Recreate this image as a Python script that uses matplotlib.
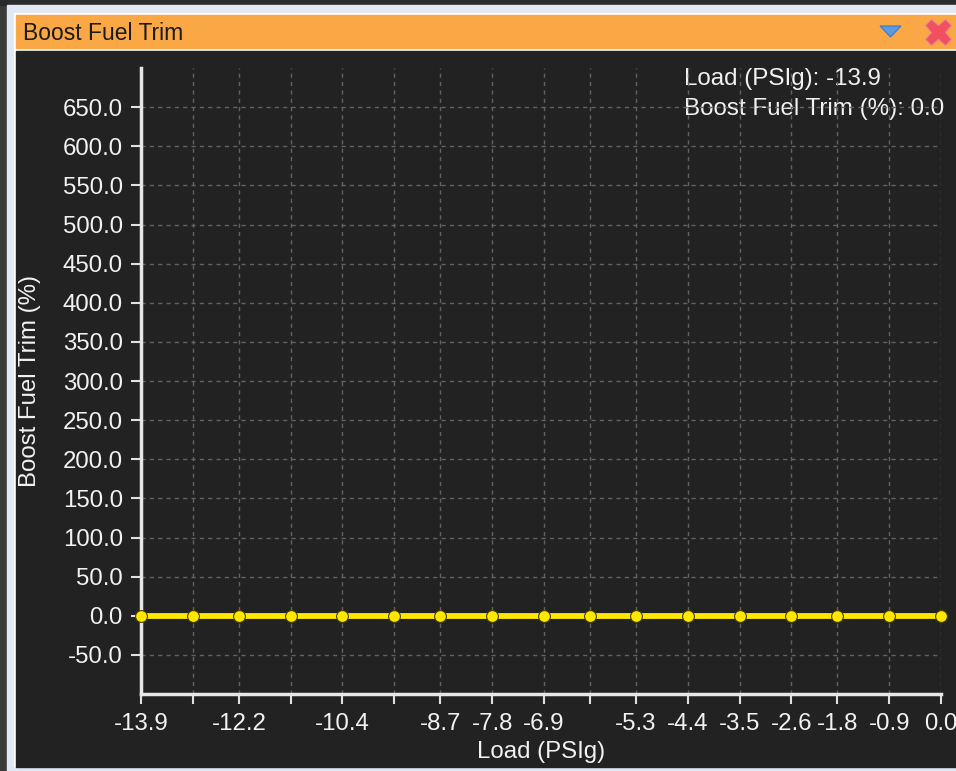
import matplotlib
matplotlib.use("Agg")
import matplotlib.pyplot as plt
from matplotlib.patches import Rectangle, Polygon

# ---- data ----
load_psig = [-13.9, -13.0, -12.2, -11.3, -10.4, -9.5, -8.7, -7.8, -6.9, -6.1,
             -5.3, -4.4, -3.5, -2.6, -1.8, -0.9, 0.0]
boost_fuel_trim = [0.0] * 17
x_tick_labels = ["-13.9", "", "-12.2", "", "-10.4", "", "-8.7", "-7.8", "-6.9", "",
                 "-5.3", "-4.4", "-3.5", "-2.6", "-1.8", "-0.9", "0.0"]
y_ticks = [-50, 0, 50, 100, 150, 200, 250, 300, 350, 400, 450, 500, 550, 600, 650]
title_text = "Boost Fuel Trim"
x_label = "Load (PSIg)"
y_label = "Boost Fuel Trim (%)"
readout = ["Load (PSIg): -13.9", "Boost Fuel Trim (%): 0.0"]

W, H = 956, 771
plt.rcParams['font.family'] = ['Liberation Sans', 'DejaVu Sans']
fig = plt.figure(figsize=(W / 100, H / 100), dpi=100)
fig.patch.set_facecolor("#f4f6f9")

# background / window chrome axes (pixel coordinates)
bg = fig.add_axes([0, 0, 1, 1], zorder=0)
bg.set_xlim(0, W)
bg.set_ylim(H, 0)
bg.axis("off")
bg.add_patch(Rectangle((0, 0), 7, H, color="#3a3a3a"))
bg.add_patch(Rectangle((0, 0), W, 5, color="#2a2a2a"))
bg.add_patch(Rectangle((7, 5), W, H, color="#dfe8f3"))
bg.add_patch(Rectangle((14, 13), W, H - 18, color="#ffffff"))
bg.add_patch(Rectangle((16, 15), W, 33, color="#f9a845"))
bg.add_patch(Rectangle((16, 51), W, 716, color="#222222"))
bg.text(23, 33, title_text, fontsize=16.5, color="#1a1a1a", va="center", ha="left")
bg.add_patch(Polygon([[880, 26], [901, 26], [890.5, 37]], closed=True,
                     facecolor="#5b9be0", edgecolor="#3c78c8", linewidth=0.8))
bg.plot([938], [32], marker="X", markersize=19, color="#f05060", markeredgecolor="#f58090",
        markeredgewidth=0.8)
bg.text(684, 79, readout[0], fontsize=17.4, color="#f2f2f2", va="center", ha="left")
bg.text(684, 109, readout[1], fontsize=17.4, color="#f2f2f2", va="center", ha="left")

# main plot axes
left, right, top, bottom = 141, 941, 68, 694
ax = fig.add_axes([left / W, (H - bottom) / H, (right - left) / W, (bottom - top) / H], zorder=1)
ax.set_facecolor("none")
ax.plot(load_psig, boost_fuel_trim, color="#ffe800", linewidth=4.2, marker="o",
        markersize=8.5, markerfacecolor="#ffe800", markeredgecolor="#4a4400",
        markeredgewidth=0.8, clip_on=False, zorder=3)
ax.set_xlim(load_psig[0], load_psig[-1])
ax.set_ylim(-100, 700)
ax.set_xticks(load_psig)
ax.set_xticklabels(x_tick_labels)
ax.set_yticks(y_ticks)
ax.set_yticklabels([f"{v:.1f}" for v in y_ticks])
ax.grid(True, color="#626262", linestyle=(0, (3, 3)), linewidth=1)
ax.set_axisbelow(True)
for s in ["top", "right"]:
    ax.spines[s].set_visible(False)
for s in ["left", "bottom"]:
    ax.spines[s].set_color("#e6e6e6")
    ax.spines[s].set_linewidth(2.5)
ax.tick_params(axis="both", colors="#e0e0e0", length=7, width=1.5, labelsize=17.3,
               labelcolor="#f2f2f2")
ax.tick_params(axis="x", pad=7)
ax.tick_params(axis="y", pad=6)
ax.set_xlabel(x_label, fontsize=17.3, color="#f2f2f2")
ax.set_ylabel(y_label, fontsize=17.3, color="#f2f2f2")
ax.xaxis.set_label_coords((541 - left) / (right - left), -(752 - bottom) / (bottom - top))
ax.xaxis.label.set_va("center")
ax.yaxis.set_label_coords(-(141 - 30) / (right - left), 0.5)
ax.yaxis.label.set_va("center")

fig.savefig("out.png", dpi=100, facecolor=fig.get_facecolor())
